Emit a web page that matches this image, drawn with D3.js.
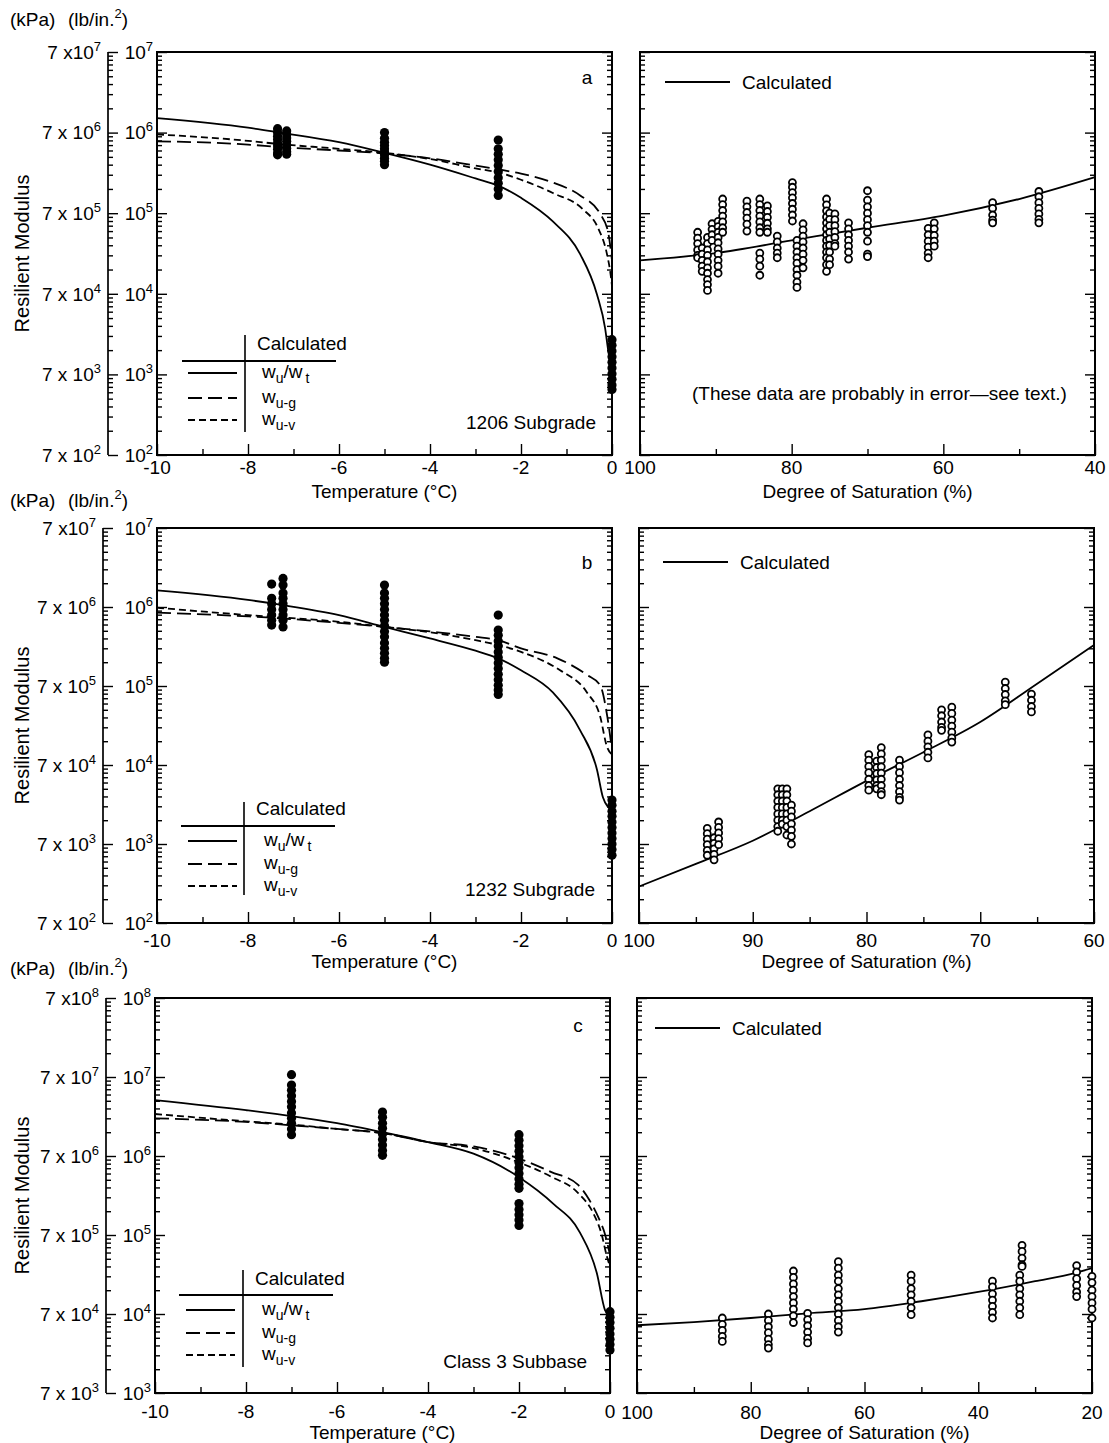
<!DOCTYPE html>
<html><head><meta charset="utf-8">
<script src="https://cdn.jsdelivr.net/npm/d3@7"></script>
<style>
body{margin:0;background:#fff}
text{font-family:'Liberation Sans',Arial,Helvetica,sans-serif;fill:#000}
</style>
</head><body><script>
// ---------------- DATA ----------------
const tempTicks = [-10,-8,-6,-4,-2,0];
const tempMinorTicks = [-9,-7,-5,-3,-1];
const satTicksA = [100,80,60,40];
const satMinorA = [90,70,50];
const satTicksB = [100,90,80,70,60];
const satMinorB = [95,85,75,65];
const satTicksC = [100,80,60,40,20];
const satMinorC = [90,70,50,30];

// Panel a: 1206 Subgrade (lb/in.^2 vs temperature)
const aWuWt = [[-10,1.51e6],[-8,1.15e6],[-7.3,1.0e6],[-6,7.6e5],[-5,5.6e5],[-4,4.0e5],[-3,2.7e5],[-2.5,2.2e5],[-2,1.55e5],[-1.3,7.9e4],[-0.7,3.1e4],[-0.33,9.8e3],[-0.15,3.7e3],[-0.09,2.1e3],[-0.03,1.26e3],[0,1.0e3]];
const aWuG = [[-10,7.8e5],[-8,7.1e5],[-7.3,6.6e5],[-6,6.0e5],[-5,5.5e5],[-4,4.8e5],[-3,3.9e5],[-2.5,3.5e5],[-2,3.1e5],[-1.3,2.4e5],[-0.7,1.66e5],[-0.26,9.8e4],[-0.09,6.0e4],[0,2.6e4]];
const aWuV = [[-10,9.5e5],[-8,7.9e5],[-7.3,7.2e5],[-6,6.3e5],[-5,5.6e5],[-4,4.7e5],[-3,3.6e5],[-2.5,3.2e5],[-2,2.6e5],[-1.3,1.78e5],[-0.64,1.12e5],[-0.31,6.6e4],[-0.11,3.1e4],[-0.04,1.9e4],[0,1.26e4]];
const aTempPts = [
 {t:-7.35, v:[1.12e6,1.0e6,9.0e5,8.2e5,7.4e5,6.8e5,6.2e5,5.6e5,5.3e5]},
 {t:-7.15, v:[1.05e6,9.5e5,8.6e5,7.8e5,7.0e5,6.4e5,5.8e5,5.4e5]},
 {t:-5, v:[1.0e6,8.5e5,7.6e5,6.9e5,6.3e5,5.8e5,5.3e5,4.8e5,4.4e5,4.0e5]},
 {t:-2.5, v:[8.1e5,6.3e5,5.4e5,4.6e5,3.9e5,3.3e5,2.75e5,2.35e5,2.0e5,1.66e5]},
 {t:0, v:[2.7e3,2.3e3,1.95e3,1.66e3,1.41e3,1.2e3,1.02e3,8.7e2,7.4e2,6.5e2]}
];
const aCalcSat = [[100,2.6e4],[90,3.2e4],[80,4.6e4],[70,6.6e4],[60,9.3e4],[50,1.5e5],[40,2.8e5]];
const aSatPts = [
 {s:92.4, v:[5.8e4,4.9e4,4.2e4,3.5e4,3.0e4,2.8e4]},
 {s:91.8, v:[3.7e4,3.1e4,2.6e4,2.2e4,1.9e4]},
 {s:91.1, v:[5.0e4,4.2e4,3.5e4,3.0e4,2.5e4,2.1e4,1.8e4,1.5e4,1.3e4,1.1e4]},
 {s:90.5, v:[7.4e4,6.3e4,5.4e4,4.6e4]},
 {s:89.7, v:[7.9e4,6.8e4,5.8e4,5.0e4,4.3e4,3.6e4,3.1e4,2.6e4,2.2e4,1.8e4]},
 {s:89.1, v:[1.5e5,1.28e5,1.08e5,9.2e4,7.8e4,6.6e4,5.8e4]},
 {s:85.9, v:[1.41e5,1.2e5,1.02e5,8.7e4,7.3e4,6.0e4]},
 {s:84.2, v:[1.5e5,1.28e5,1.08e5,9.2e4,7.8e4,6.6e4,5.8e4,3.2e4,2.7e4,2.2e4,1.7e4]},
 {s:83.2, v:[1.23e5,1.05e5,8.9e4,7.5e4,6.4e4,5.8e4]},
 {s:81.9, v:[5.2e4,4.4e4,3.7e4,3.2e4,2.8e4]},
 {s:79.9, v:[2.4e5,2.1e5,1.8e5,1.55e5,1.32e5,1.12e5,9.5e4,8.0e4]},
 {s:79.3, v:[4.6e4,3.9e4,3.3e4,2.8e4,2.4e4,2.0e4,1.7e4,1.4e4,1.2e4]},
 {s:78.5, v:[7.4e4,6.2e4,5.2e4,4.4e4,3.7e4,3.1e4,2.6e4,2.1e4]},
 {s:75.4, v:[1.5e5,1.27e5,1.07e5,9.0e4,7.6e4,6.4e4,5.4e4,4.6e4,3.9e4,3.3e4,2.8e4,2.3e4,1.9e4]},
 {s:75.0, v:[1.0e5,8.4e4,7.0e4,5.8e4,4.8e4,4.0e4,3.3e4,2.7e4,2.3e4]},
 {s:74.3, v:[9.8e4,8.3e4,7.0e4,5.9e4,5.0e4,4.2e4,3.9e4]},
 {s:72.5, v:[7.6e4,6.4e4,5.4e4,4.6e4,3.9e4,3.3e4,2.7e4]},
 {s:70.0, v:[1.9e5,1.45e5,1.2e5,1.0e5,8.3e4,7.0e4,5.8e4,4.5e4,3.1e4,2.9e4]},
 {s:62.0, v:[6.5e4,5.4e4,4.5e4,3.8e4,3.2e4,2.8e4]},
 {s:61.2, v:[7.6e4,6.4e4,5.3e4,4.5e4,3.9e4]},
 {s:53.5, v:[1.35e5,1.15e5,9.5e4,8.2e4,7.6e4]},
 {s:47.4, v:[1.86e5,1.6e5,1.35e5,1.15e5,9.8e4,8.4e4,7.6e4]}
];

// Panel b: 1232 Subgrade
const bWuWt = [[-10,1.62e6],[-8,1.23e6],[-7.3,1.07e6],[-6,7.9e5],[-5,5.6e5],[-4,4.0e5],[-3,2.8e5],[-2.5,2.24e5],[-2,1.58e5],[-1.3,8.3e4],[-0.7,2.75e4],[-0.33,8.7e3],[-0.2,3.9e3],[-0.09,2.95e3],[0,2.7e3]];
const bWuG = [[-10,8.5e5],[-8,7.6e5],[-7.3,7.2e5],[-6,6.3e5],[-5,5.6e5],[-4,4.9e5],[-3,4.2e5],[-2.5,3.8e5],[-2,3.0e5],[-1.2,2.24e5],[-0.55,1.38e5],[-0.26,1.02e5],[-0.1,4.0e4],[0,1.55e4]];
const bWuV = [[-10,9.8e5],[-8,7.9e5],[-7.3,7.4e5],[-6,6.5e5],[-5,5.6e5],[-4,4.8e5],[-3,3.8e5],[-2.5,3.3e5],[-2,2.7e5],[-1.14,1.58e5],[-0.55,8.3e4],[-0.26,4.1e4],[-0.11,1.7e4],[0,1.35e4]];
const bTempPts = [
 {t:-7.48, v:[1.95e6,1.29e6,1.1e6,9.3e5,7.9e5,6.8e5,5.9e5]},
 {t:-7.23, v:[2.3e6,1.9e6,1.5e6,1.29e6,1.1e6,9.3e5,7.9e5,6.8e5,5.6e5]},
 {t:-5, v:[1.9e6,1.5e6,1.29e6,1.1e6,9.3e5,7.9e5,6.8e5,5.8e5,4.9e5,4.2e5,3.5e5,3.0e5,2.6e5,2.24e5,2.0e5]},
 {t:-2.5, v:[7.9e5,5.1e5,4.4e5,3.7e5,3.2e5,2.7e5,2.3e5,1.95e5,1.66e5,1.41e5,1.2e5,1.02e5,8.9e4,7.8e4]},
 {t:0, v:[3.6e3,3.1e3,2.6e3,2.24e3,1.9e3,1.62e3,1.38e3,1.17e3,1.0e3,8.5e2,7.2e2]}
];
const bCalcSat = [[100,2.9e2],[95,5.6e2],[90,1.1e3],[85,2.6e3],[80,6.3e3],[75,1.45e4],[70,3.5e4],[65,1.07e5],[60,3.3e5]];
const bSatPts = [
 {s:94.0, v:[1.58e3,1.35e3,1.15e3,9.8e2,8.3e2,7.2e2]},
 {s:93.4, v:[1.2e3,1.02e3,8.7e2,7.4e2,6.3e2]},
 {s:93.0, v:[1.9e3,1.62e3,1.38e3,1.17e3,9.8e2]},
 {s:87.8, v:[5.0e3,4.2e3,3.5e3,2.9e3,2.4e3,2.0e3,1.66e3,1.45e3]},
 {s:87.4, v:[5.0e3,4.2e3,3.5e3,2.9e3,2.4e3,2.0e3,1.78e3]},
 {s:87.0, v:[5.0e3,4.2e3,3.5e3,2.9e3,2.4e3,2.0e3,1.66e3,1.3e3]},
 {s:86.6, v:[3.1e3,2.6e3,2.2e3,1.8e3,1.5e3,1.25e3,1.0e3]},
 {s:79.8, v:[1.35e4,1.15e4,9.6e3,8.0e3,6.6e3,5.5e3,4.8e3]},
 {s:79.1, v:[1.12e4,9.3e3,7.8e3,6.5e3,5.5e3,5.0e3]},
 {s:78.7, v:[1.66e4,1.38e4,1.15e4,9.5e3,7.9e3,6.6e3,5.5e3,4.6e3,4.2e3]},
 {s:77.1, v:[1.15e4,9.6e3,8.0e3,6.6e3,5.5e3,4.6e3,3.9e3,3.6e3]},
 {s:74.6, v:[2.4e4,2.0e4,1.7e4,1.45e4,1.23e4]},
 {s:73.4, v:[5.0e4,4.2e4,3.5e4,3.0e4,2.75e4]},
 {s:72.5, v:[5.4e4,4.5e4,3.7e4,3.1e4,2.6e4,2.2e4,1.95e4]},
 {s:67.8, v:[1.12e5,9.3e4,7.8e4,6.5e4,5.8e4]},
 {s:65.5, v:[7.9e4,6.6e4,5.5e4,4.7e4]}
];

// Panel c: Class 3 Subbase
const cWuWt = [[-10,5.1e6],[-8,3.8e6],[-7,3.2e6],[-6,2.6e6],[-5,2.0e6],[-4,1.5e6],[-3,1.07e6],[-2,5.4e5],[-1.25,2.5e5],[-0.66,1.07e5],[-0.29,3.3e4],[-0.11,1.12e4],[0,9.3e3]];
const cWuG = [[-10,3.0e6],[-8,2.7e6],[-7,2.45e6],[-6,2.2e6],[-5,1.95e6],[-4,1.5e6],[-3,1.32e6],[-2,9.3e5],[-1.3,6.3e5],[-0.7,4.3e5],[-0.45,2.75e5],[-0.23,1.55e5],[-0.12,1.07e5],[0,5.6e4]];
const cWuV = [[-10,3.4e6],[-8,2.75e6],[-7,2.5e6],[-6,2.2e6],[-5,1.95e6],[-4,1.5e6],[-3,1.26e6],[-2,8.3e5],[-1.3,5.5e5],[-0.7,3.4e5],[-0.37,1.9e5],[-0.19,1.05e5],[-0.07,5.4e4],[0,4.0e4]];
const cTempPts = [
 {t:-7, v:[1.07e7,7.9e6,6.8e6,5.8e6,4.9e6,4.2e6,3.5e6,3.0e6,2.6e6,2.2e6,1.86e6]},
 {t:-5, v:[3.6e6,3.1e6,2.6e6,2.24e6,1.9e6,1.62e6,1.38e6,1.17e6,1.02e6]},
 {t:-2, v:[1.86e6,1.58e6,1.35e6,1.15e6,9.8e5,8.3e5,7.1e5,6.0e5,5.1e5,4.4e5,3.9e5,2.5e5,2.1e5,1.8e5,1.55e5,1.32e5]},
 {t:0, v:[1.07e4,9.1e3,7.8e3,6.6e3,5.6e3,4.8e3,4.1e3,3.5e3]}
];
const cCalcSat = [[100,7.2e3],[90,7.9e3],[80,8.9e3],[70,1.02e4],[60,1.15e4],[50,1.45e4],[40,1.9e4],[30,2.6e4],[23,3.3e4],[20,3.8e4]];
const cSatPts = [
 {s:85.0, v:[8.9e3,7.4e3,6.2e3,5.2e3,4.5e3]},
 {s:76.9, v:[1.0e4,8.3e3,6.9e3,5.8e3,4.8e3,4.1e3,3.7e3]},
 {s:72.5, v:[3.5e4,2.9e4,2.4e4,2.0e4,1.66e4,1.38e4,1.15e4,9.5e3,7.8e3]},
 {s:70.0, v:[1.02e4,8.5e3,7.1e3,5.9e3,4.9e3,4.3e3]},
 {s:64.6, v:[4.6e4,3.8e4,3.1e4,2.6e4,2.1e4,1.75e4,1.45e4,1.2e4,1.0e4,8.3e3,6.9e3,5.9e3]},
 {s:51.8, v:[3.1e4,2.6e4,2.1e4,1.75e4,1.45e4,1.2e4,9.8e3]},
 {s:37.5, v:[2.6e4,2.2e4,1.8e4,1.5e4,1.25e4,1.05e4,8.9e3]},
 {s:32.7, v:[3.1e4,2.6e4,2.1e4,1.75e4,1.45e4,1.2e4,9.8e3]},
 {s:32.3, v:[7.4e4,6.2e4,5.1e4,4.2e4,4.0e4]},
 {s:22.7, v:[4.1e4,3.4e4,2.8e4,2.3e4,1.9e4,1.66e4]},
 {s:20.0, v:[3.0e4,2.5e4,2.0e4,1.66e4,1.38e4,1.15e4,8.9e3]}
];

// ---------------- LAYOUT ----------------
const panels = [
 {top:52, bot:455, e0:2, e1:7, lx0:157, lx1:612, rx0:640, rx1:1095, kpaX:108, satMin:40,
  satTicks:satTicksA, satMinor:satMinorA, curves:[aWuWt,aWuG,aWuV], tpts:aTempPts, calc:aCalcSat, spts:aSatPts,
  unitY:19, tLabY:467, sLabY:467, titleY:491, letter:"a", letterX:587, letterY:77, name:"1206 Subgrade", nameX:596, nameY:422,
  leg:{vx:245, v0:335, v1:432, hy:361, hx0:182, hx1:336, cx:257, cy:343, sx0:188, sx1:237, rows:[373,398,420], lx:262},
  calcLeg:{x0:665, x1:730, y:82, tx:742}, note:true},
 {top:528, bot:923, e0:2, e1:7, lx0:157, lx1:612, rx0:639, rx1:1094, kpaX:103, satMin:60,
  satTicks:satTicksB, satMinor:satMinorB, curves:[bWuWt,bWuG,bWuV], tpts:bTempPts, calc:bCalcSat, spts:bSatPts,
  unitY:500, tLabY:940, sLabY:940, titleY:961, letter:"b", letterX:587, letterY:562, name:"1232 Subgrade", nameX:595, nameY:889,
  leg:{vx:244, v0:802, v1:895, hy:826, hx0:181, hx1:335, cx:256, cy:808, sx0:188, sx1:237, rows:[841,864,886], lx:264},
  calcLeg:{x0:663, x1:728, y:562, tx:740}, note:false},
 {top:998, bot:1393, e0:3, e1:8, lx0:155, lx1:610, rx0:637, rx1:1092, kpaX:106, satMin:20,
  satTicks:satTicksC, satMinor:satMinorC, curves:[cWuWt,cWuG,cWuV], tpts:cTempPts, calc:cCalcSat, spts:cSatPts,
  unitY:968, tLabY:1411, sLabY:1412, titleY:1432, letter:"c", letterX:578, letterY:1025, name:"Class 3 Subbase", nameX:587, nameY:1361,
  leg:{vx:243, v0:1270, v1:1367, hy:1295, hx0:179, hx1:333, cx:255, cy:1278, sx0:186, sx1:235, rows:[1310,1333,1355], lx:262},
  calcLeg:{x0:655, x1:720, y:1028, tx:732}, note:false}
];

const FS = 19, SUP = 13;
const dashes = [null, "14,6", "7,4"];
const svg = d3.select("body").append("svg").attr("width",1109).attr("height",1443);

function logTicks(e0,e1){
  const minor=[], major=[];
  for(let e=e0;e<e1;e++) for(let k=1;k<10;k++) (k===1?major:minor).push(k*Math.pow(10,e));
  major.push(Math.pow(10,e1));
  return {minor, major};
}
function tickAxis(g, axis, tr){
  g.append("g").attr("transform",tr).call(axis)
   .call(s=>s.select(".domain").remove())
   .selectAll("line").attr("stroke","#000").attr("stroke-width",1.4);
}
function yTicks(g, y, e0, e1, xpos, dir){
  const {minor, major} = logTicks(e0,e1);
  const A = dir>0 ? d3.axisRight : d3.axisLeft;
  tickAxis(g, A(y).tickValues(minor).tickSize(5).tickFormat(""), `translate(${xpos},0)`);
  tickAxis(g, A(y).tickValues(major).tickSize(10).tickFormat(""), `translate(${xpos},0)`);
}
function xTicks(g, x, majors, minors, ypos){
  tickAxis(g, d3.axisTop(x).tickValues(minors).tickSize(6).tickFormat(""), `translate(0,${ypos})`);
  tickAxis(g, d3.axisTop(x).tickValues(majors).tickSize(11).tickFormat(""), `translate(0,${ypos})`);
}
function xLabels(g, x, vals, yc){
  g.selectAll(null).data(vals).join("text")
   .attr("x",d=>x(d)).attr("y",yc).attr("dy","0.36em").attr("text-anchor","middle")
   .attr("font-size",FS).text(d=>String(d));
}
function supText(g, x, y, base, exp){
  const t = g.append("text").attr("x",x).attr("y",y).attr("dy","0.36em").attr("text-anchor","end").attr("font-size",FS);
  t.append("tspan").text(base);
  t.append("tspan").attr("font-size",SUP).attr("dy",-8).text(exp);
}
function subLabel(g, x, y, parts){
  const t = g.append("text").attr("x",x).attr("y",y).attr("dy","0.36em").attr("font-size",FS);
  let lowered=false;
  parts.forEach(p=>{
    const ts = t.append("tspan").text(p.t);
    if(p.sub && !lowered){ ts.attr("font-size",14).attr("dy",5); lowered=true; }
    else if(p.sub){ ts.attr("font-size",14); }
    else if(lowered){ ts.attr("dy",-5); lowered=false; }
    if(p.dx) ts.attr("dx",p.dx);
  });
}

panels.forEach(P=>{
  const g = svg.append("g");
  const y = d3.scaleLog().domain([Math.pow(10,P.e0), Math.pow(10,P.e1)]).range([P.bot, P.top]);
  const x = d3.scaleLinear().domain([-10,0]).range([P.lx0, P.lx1]);
  const xs = d3.scaleLinear().domain([100, P.satMin]).range([P.rx0, P.rx1]);

  // unit header
  g.append("text").attr("x",10).attr("y",P.unitY).attr("dy","0.36em").attr("font-size",FS).text("(kPa)");
  const u = g.append("text").attr("x",68).attr("y",P.unitY).attr("dy","0.36em").attr("font-size",FS);
  u.append("tspan").text("(lb/in.");
  u.append("tspan").attr("font-size",SUP).attr("dy",-8).text("2");
  u.append("tspan").attr("dy",8).text(")");

  // kPa axis
  const {major} = logTicks(P.e0, P.e1);
  g.append("line").attr("x1",P.kpaX).attr("x2",P.kpaX).attr("y1",P.top).attr("y2",P.bot).attr("stroke","#000").attr("stroke-width",1.7);
  yTicks(g, y, P.e0, P.e1, P.kpaX, 1);
  major.forEach((v,i)=>{
    const e = P.e0 + i;
    supText(g, P.kpaX-7, y(v), i===major.length-1 ? "7 x10" : "7 x 10", String(e));
    supText(g, P.lx0-4, y(v), "10", String(e));
  });

  // Resilient Modulus
  g.append("text").attr("transform",`translate(22,${(P.top+P.bot)/2}) rotate(-90)`)
   .attr("text-anchor","middle").attr("dy","0.36em").attr("font-size",20).text("Resilient Modulus");

  // ---- left panel ----
  g.append("rect").attr("x",P.lx0).attr("y",P.top).attr("width",P.lx1-P.lx0).attr("height",P.bot-P.top)
   .attr("fill","none").attr("stroke","#000").attr("stroke-width",2);
  yTicks(g, y, P.e0, P.e1, P.lx0, 1);
  yTicks(g, y, P.e0, P.e1, P.lx1, -1);
  xTicks(g, x, tempTicks, tempMinorTicks, P.bot);
  xLabels(g, x, tempTicks, P.tLabY);
  g.append("text").attr("x",(P.lx0+P.lx1)/2).attr("y",P.titleY).attr("dy","0.36em").attr("text-anchor","middle")
   .attr("font-size",FS).text("Temperature (°C)");

  const line = d3.line().x(d=>x(d[0])).y(d=>y(d[1])).curve(d3.curveMonotoneX);
  P.curves.forEach((c,i)=>{
    g.append("path").attr("d",line(c)).attr("fill","none").attr("stroke","#000").attr("stroke-width",1.8)
     .attr("stroke-dasharray",dashes[i]);
  });
  P.tpts.forEach(col=>{
    g.selectAll(null).data(col.v).join("circle").attr("cx",x(col.t)).attr("cy",d=>y(d)).attr("r",4.6).attr("fill","#000");
  });
  g.append("text").attr("x",P.letterX).attr("y",P.letterY).attr("dy","0.36em").attr("text-anchor","middle").attr("font-size",FS).text(P.letter);
  g.append("text").attr("x",P.nameX).attr("y",P.nameY).attr("dy","0.36em").attr("text-anchor","end").attr("font-size",FS).text(P.name);

  // legend
  const L = P.leg;
  g.append("line").attr("x1",L.vx).attr("x2",L.vx).attr("y1",L.v0).attr("y2",L.v1).attr("stroke","#000").attr("stroke-width",1.6);
  g.append("line").attr("x1",L.hx0).attr("x2",L.hx1).attr("y1",L.hy).attr("y2",L.hy).attr("stroke","#000").attr("stroke-width",2);
  g.append("text").attr("x",L.cx).attr("y",L.cy).attr("dy","0.36em").attr("font-size",FS).text("Calculated");
  L.rows.forEach((ry,i)=>{
    g.append("line").attr("x1",L.sx0).attr("x2",L.sx1).attr("y1",ry).attr("y2",ry).attr("stroke","#000").attr("stroke-width",1.8)
     .attr("stroke-dasharray",dashes[i]);
  });
  subLabel(g, L.lx, L.rows[0]-2, [{t:"w"},{t:"u",sub:true},{t:"/w"},{t:"t",sub:true,dx:3}]);
  subLabel(g, L.lx, L.rows[1]-2, [{t:"w"},{t:"u-g",sub:true}]);
  subLabel(g, L.lx, L.rows[2]-2, [{t:"w"},{t:"u-v",sub:true}]);

  // ---- right panel ----
  g.append("rect").attr("x",P.rx0).attr("y",P.top).attr("width",P.rx1-P.rx0).attr("height",P.bot-P.top)
   .attr("fill","none").attr("stroke","#000").attr("stroke-width",2);
  yTicks(g, y, P.e0, P.e1, P.rx0, 1);
  yTicks(g, y, P.e0, P.e1, P.rx1, -1);
  xTicks(g, xs, P.satTicks, P.satMinor, P.bot);
  xLabels(g, xs, P.satTicks, P.sLabY);
  g.append("text").attr("x",(P.rx0+P.rx1)/2).attr("y",P.titleY).attr("dy","0.36em").attr("text-anchor","middle")
   .attr("font-size",FS).text("Degree of Saturation (%)");
  const sline = d3.line().x(d=>xs(d[0])).y(d=>y(d[1])).curve(d3.curveMonotoneX);
  g.append("path").attr("d",sline(P.calc)).attr("fill","none").attr("stroke","#000").attr("stroke-width",1.8);
  P.spts.forEach(col=>{
    g.selectAll(null).data(col.v).join("circle").attr("cx",xs(col.s)).attr("cy",d=>y(d)).attr("r",3.5)
     .attr("fill","#fff").attr("stroke","#000").attr("stroke-width",1.8);
  });
  const C = P.calcLeg;
  g.append("line").attr("x1",C.x0).attr("x2",C.x1).attr("y1",C.y).attr("y2",C.y).attr("stroke","#000").attr("stroke-width",1.8);
  g.append("text").attr("x",C.tx).attr("y",C.y).attr("dy","0.36em").attr("font-size",FS).text("Calculated");
  if(P.note){
    g.append("text").attr("x",692).attr("y",393).attr("dy","0.36em").attr("font-size",FS)
     .text("(These data are probably in error\u2014see text.)");
  }
});
</script></body></html>
